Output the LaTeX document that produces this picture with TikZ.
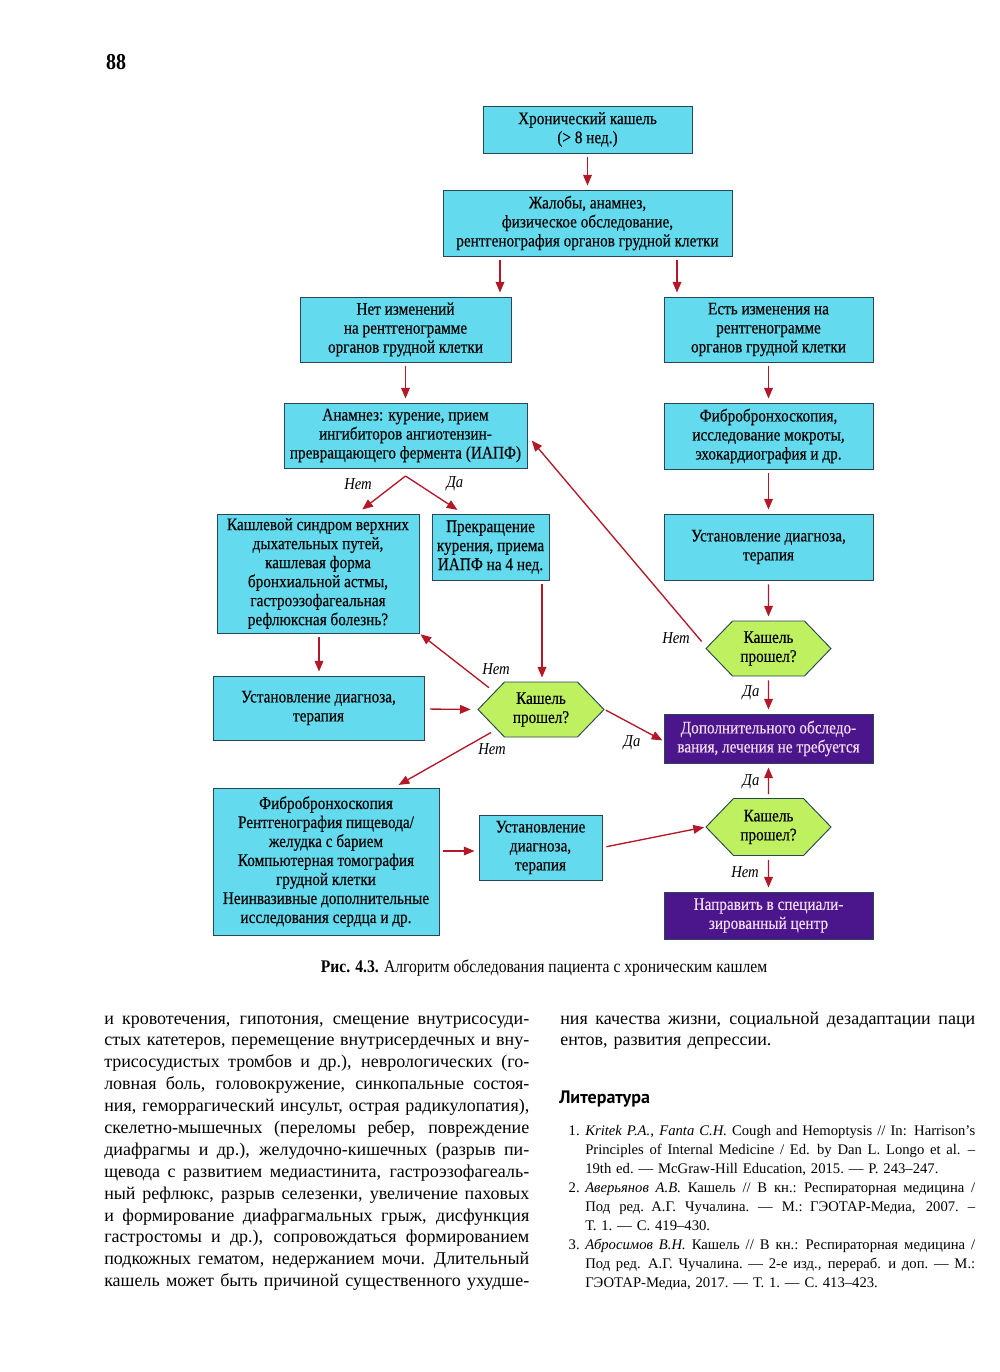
\documentclass[tikz,border=0pt]{standalone}
\usepackage{fontspec}
\setmainfont{Liberation Serif}
\newfontfamily\condf[FakeStretch=0.88]{Liberation Serif}
\newfontfamily\boxf[FakeStretch=0.86,FakeBold=0.35]{Liberation Serif}
\newfontfamily\headf{PT Sans}
\usetikzlibrary{arrows.meta,shapes.symbols}
\definecolor{cyanbox}{RGB}{100,218,238}
\definecolor{greenbox}{RGB}{190,240,95}
\definecolor{purplebox}{RGB}{75,22,140}
\definecolor{purpletext}{RGB}{245,220,245}
\definecolor{arrowred}{RGB}{178,24,40}
\definecolor{edgecol}{RGB}{40,70,85}
\newdimen\colw
\newcommand{\jl}[1]{\hbox to\colw{\spaceskip=0.23em plus 1fil\relax #1}}
\newcommand{\nl}[1]{\hbox{#1}}
\begin{document}
\begin{tikzpicture}[x=0.75pt,y=-0.75pt,
  wh/.style 2 args={minimum width=#1*0.75pt,minimum height=#2*0.75pt},
  boxtext/.style={align=center,font=\boxf\fontsize{13.3}{14.25}\selectfont,inner sep=0pt},
  cbox/.style={boxtext,draw=edgecol,line width=0.7pt,fill=cyanbox},
  pbox/.style={boxtext,draw=edgecol,line width=0.7pt,fill=purplebox,text=purpletext},
  hexbox/.style={boxtext,draw=edgecol,line width=0.7pt,fill=greenbox,signal,signal to=west and east,signal pointer angle=92,wh={125}{55}},
  arr/.style={draw=arrowred,line width=1pt,-{Triangle[length=8pt,width=6.5pt]},shorten <=3pt,shorten >=3pt},
  lab/.style={font=\condf\itshape\fontsize{12.5}{14}\selectfont,inner sep=0pt},
  body/.style={font=\fontsize{13.5}{16.42}\selectfont,inner sep=0pt,align=left}
]
\useasboundingbox (0,0) rectangle (1000,1372);
\fill[white] (0,0) rectangle (1000,1372);

% page number
\node[font=\condf\bfseries\fontsize{17}{18}\selectfont,inner sep=0pt] (pnum) at (116,62) {88};

% boxes
\node[cbox,wh={209}{47}] (b1) at (587.5,129.5) {Хронический кашель\\(> 8 нед.)};
\node[cbox,wh={289}{66}] (b2) at (587.5,223) {Жалобы, анамнез,\\физическое обследование,\\рентгенография органов грудной клетки};
\node[cbox,wh={211}{65}] (b3) at (405.5,329.5) {Нет изменений\\на рентгенограмме\\органов грудной клетки};
\node[cbox,wh={209}{65}] (b4) at (768.5,329.5) {Есть изменения на\\рентгенограмме\\органов грудной клетки};
\node[cbox,wh={243}{65}] (b5) at (405.5,435.5) {Анамнез: курение, прием\\ингибиторов ангиотензин-\\превращающего фермента (ИАПФ)};
\node[cbox,wh={209}{66}] (b6) at (768.5,436) {Фибробронхоскопия,\\исследование мокроты,\\эхокардиография и др.};
\node[cbox,wh={209}{66}] (b7) at (768.5,547) {Установление диагноза,\\терапия};
\node[hexbox] (d1) at (768.5,648.5) {Кашель\\прошел?};
\node[pbox,wh={209}{49}] (p1) at (768.5,738.5) {Дополнительного обследо-\\вания, лечения не требуется};
\node[cbox,wh={202}{119}] (b8) at (318,573.5) {Кашлевой синдром верхних\\дыхательных путей,\\кашлевая форма\\бронхиальной астмы,\\гастроэзофагеальная\\рефлюксная болезнь?};
\node[cbox,wh={117}{66}] (b9) at (490.5,547) {Прекращение\\курения, приема\\ИАПФ на 4 нед.};
\node[hexbox,wh={126}{55}] (d2) at (541,709.5) {Кашель\\прошел?};
\node[cbox,wh={211}{64}] (b10) at (318.5,708) {Установление диагноза,\\терапия};
\node[cbox,wh={226}{147}] (b11) at (326,861.5) {Фибробронхоскопия\\Рентгенография пищевода/\\желудка с барием\\Компьютерная томография\\грудной клетки\\Неинвазивные дополнительные\\исследования сердца и др.};
\node[cbox,wh={123}{65}] (b12) at (540.5,847.5) {Установление\\диагноза,\\терапия};
\node[hexbox,wh={125}{57}] (d3) at (768.5,827) {Кашель\\прошел?};
\node[pbox,wh={209}{47}] (p2) at (768.5,915.5) {Направить в специали-\\зированный центр};

% connectors
\draw[arr] (b1) -- (b2);
\draw[arr] (b2.south -| 500,0) -- (b3.north -| 500,0);
\draw[arr] (b2.south -| 677,0) -- (b4.north -| 677,0);
\draw[arr] (b3) -- (b5);
\draw[arr] (b4) -- (b6);
\draw[arr] (b6) -- (b7);
\draw[arr] (b7) -- (d1);
\draw[arr] (d1) -- (p1);
\draw[arr,shorten <=1pt,shorten >=5pt] ([shift={(-66,-6)}]d1.center) -- (b5.east);
\coordinate (apx) at (405.5,476);
\draw[arr,shorten <=0pt,shorten >=5pt] (apx) -- (b8.north -| 357,0);
\draw[arr,shorten <=0pt,shorten >=5pt] (apx) -- (b9.north -| 463,0);
\draw[arr] (b9.south -| 542,0) -- (d2.north -| 542,0);
\draw[arr] (b8.south -| 319,0) -- (b10.north -| 319,0);
\draw[arr,shorten <=4pt,shorten >=5pt] (b10) -- (d2.west);
\draw[arr,shorten <=1pt,shorten >=1pt] ([shift={(-51,-21)}]d2.center) -- (b8.south east);
\draw[arr,shorten <=1pt,shorten >=1pt] (d2.east) -- ([yshift=-2.5*0.75pt]p1.west);
\draw[arr,shorten <=0pt,shorten >=4pt] ([shift={(-50,23)}]d2.center) -- ([shift={(68,0)}]b11.north);
\draw[arr] (b11.east |- 0,851) -- (b12.west |- 0,851);
\draw[arr,shorten <=3pt,shorten >=1pt] (b12.east) -- (d3.west);
\draw[arr] (d3) -- (p1);
\draw[arr] (d3) -- (p2);

% labels
\node[lab] (l1) at (358,484) {Нет};
\node[lab] (l2) at (455,484) {Да};
\node[lab] (l3) at (676,638) {Нет};
\node[lab] (l4) at (751,693) {Да};
\node[lab] (l5) at (496,669) {Нет};
\node[lab] (l6) at (632,743) {Да};
\node[lab] (l7) at (492,749) {Нет};
\node[lab] (l8) at (751,782) {Да};
\node[lab] (l9) at (745,872) {Нет};

% caption
\node[font=\condf\fontsize{13.3}{15}\selectfont,inner sep=0pt,anchor=base] (cap) at (544,972) {\textbf{Рис. 4.3.} Алгоритм обследования пациента с хроническим кашлем};

% body text left column
\node[body,anchor=base west,text width=318.75pt] (bodyl) at (104,1024) {\colw=318.75pt\relax
\jl{и кровотечения, гипотония, смещение внутрисосуди-}
\jl{стых катетеров, перемещение внутрисердечных и вну-}
\jl{трисосудистых тромбов и др.), неврологических (го-}
\jl{ловная боль, головокружение, синкопальные состоя-}
\jl{ния, геморрагический инсульт, острая радикулопатия),}
\jl{скелетно-мышечных (переломы ребер, повреждение}
\jl{диафрагмы и др.), желудочно-кишечных (разрыв пи-}
\jl{щевода с развитием медиастинита, гастроэзофагеаль-}
\jl{ный рефлюкс, разрыв селезенки, увеличение паховых}
\jl{и формирование диафрагмальных грыж, дисфункция}
\jl{гастростомы и др.), сопровождаться формированием}
\jl{подкожных гематом, недержанием мочи. Длительный}
\jl{кашель может быть причиной существенного ухудше-}};

% body text right column
\node[body,anchor=base west,text width=311.25pt] (bodyr) at (560,1024) {\colw=311.25pt\relax
\jl{ния качества жизни, социальной дезадаптации паци}
\nl{ентов, развития депрессии.}};

% heading
\node[font=\headf\bfseries\fontsize{13.5}{16}\selectfont,inner sep=0pt,anchor=base west] (lit) at (559,1103) {Литература};

% references
\node[font=\fontsize{11}{14.25}\selectfont,inner sep=0pt,align=left,anchor=base west,text width=292.5pt] (refs) at (585,1135) {\colw=292.5pt\relax
\jl{\textit{Kritek P.A.}, \textit{Fanta C.H.} Cough and Hemoptysis // In: Harrison's}
\jl{Principles of Internal Medicine / Ed. by Dan L. Longo et al. –}
\nl{19th ed.~— McGraw-Hill Education, 2015.~— P. 243–247.}
\jl{\textit{Аверьянов А.В.} Кашель // В кн.: Респираторная медицина /}
\jl{Под ред. А.Г. Чучалина.~— М.: ГЭОТАР-Медиа, 2007.~–}
\nl{Т. 1.~— С. 419–430.}
\jl{\textit{Абросимов В.Н.} Кашель // В кн.: Респираторная медицина /}
\jl{Под ред. А.Г. Чучалина.~— 2-е изд., перераб. и доп.~— М.:}
\nl{ГЭОТАР-Медиа, 2017.~— Т. 1.~— С. 413–423.}};
\node[font=\fontsize{11}{14.25}\selectfont,inner sep=0pt,anchor=base east] (n1) at (580,1135) {1.};
\node[font=\fontsize{11}{14.25}\selectfont,inner sep=0pt,anchor=base east] (n2) at (580,1192) {2.};
\node[font=\fontsize{11}{14.25}\selectfont,inner sep=0pt,anchor=base east] (n3) at (580,1249) {3.};
\end{tikzpicture}
\end{document}
